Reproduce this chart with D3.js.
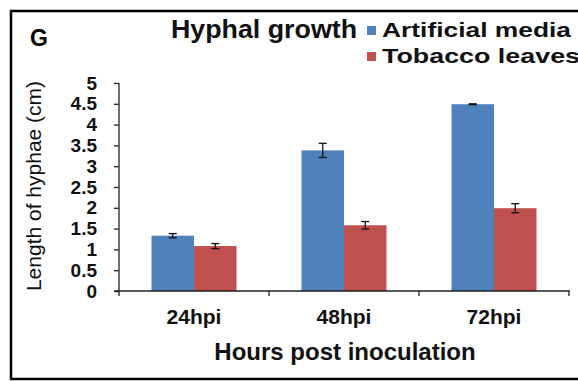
<!DOCTYPE html>
<html><head><meta charset="utf-8">
<script src="https://cdn.jsdelivr.net/npm/d3@7"></script>
<style>body{margin:0;background:#fff}svg{display:block;font-family:Arial,"Liberation Sans",sans-serif}</style>
</head><body><svg id="c" width="578" height="381"></svg>
<script>
const categories = ["24hpi", "48hpi", "72hpi"];
const seriesNames = ["Artificial media", "Tobacco leaves"];
const artificialMedia = [1.33, 3.38, 4.49];
const artificialErr = [0.05, 0.17, 0.01];
const tobaccoLeaves = [1.08, 1.58, 1.99];
const tobaccoErr = [0.06, 0.09, 0.11];
const yTicks = [0, 0.5, 1, 1.5, 2, 2.5, 3, 3.5, 4, 4.5, 5];
const colors = ["#4F81BD", "#C0504D"];

const svg = d3.select("#c");
svg.append("rect").attr("x", 11).attr("y", 11).attr("width", 600).attr("height", 368)
  .attr("fill", "none").attr("stroke", "#000").attr("stroke-width", 2.5);

const x = d3.scaleBand().domain(categories).range([119, 569]).paddingInner(0).paddingOuter(0);
const y = d3.scaleLinear().domain([0, 5]).range([291, 83]);
const x1 = d3.scaleBand().domain(seriesNames).range([0, 85]);

const vals = [artificialMedia, tobaccoLeaves];
const errs = [artificialErr, tobaccoErr];

const g = svg.append("g");
categories.forEach((c, i) => {
  const gx = x(c) + (x.bandwidth() - 85) / 2;
  seriesNames.forEach((s, k) => {
    const v = vals[k][i], e = errs[k][i];
    const bx = gx + x1(s);
    g.append("rect").attr("x", bx).attr("y", y(v)).attr("width", x1.bandwidth())
      .attr("height", y(0) - y(v)).attr("fill", colors[k]);
    const cx = bx + x1.bandwidth() / 2;
    g.append("line").attr("x1", cx).attr("x2", cx).attr("y1", y(v + e)).attr("y2", y(v - e))
      .attr("stroke", "#111").attr("stroke-width", 1.3);
    [v + e, v - e].forEach(t => g.append("line").attr("x1", cx - 4).attr("x2", cx + 4)
      .attr("y1", y(t)).attr("y2", y(t)).attr("stroke", "#111").attr("stroke-width", 1.3));
  });
});

const FONT = "Arial,'Liberation Sans',sans-serif";
const ya = svg.append("g").attr("transform", "translate(119,0)")
  .call(d3.axisLeft(y).tickValues(yTicks).tickSize(5).tickPadding(17).tickFormat(d3.format("")));
ya.select(".domain").attr("stroke", "#222").attr("stroke-width", 1.3).attr("d", "M0,83V291");
ya.selectAll(".tick line").attr("stroke", "#222").attr("stroke-width", 1.3);
ya.selectAll("text").attr("font-size", 19).attr("font-weight", "bold").attr("fill", "#111")
  .attr("font-family", FONT);

const xa = svg.append("g").attr("transform", "translate(0,291)")
  .call(d3.axisBottom(x).tickSize(0).tickPadding(18));
xa.select(".domain").attr("stroke", "#222").attr("stroke-width", 1.3).attr("d", "M114,0H570");
xa.selectAll("text").attr("font-size", 21).attr("font-weight", "bold").attr("fill", "#111")
  .attr("font-family", FONT);
const bounds = [119].concat(categories.map(c => x(c) + x.bandwidth()));
svg.append("g").selectAll("line").data(bounds).join("line")
  .attr("x1", d => d).attr("x2", d => d).attr("y1", 291).attr("y2", 296)
  .attr("stroke", "#222").attr("stroke-width", 1.3);

svg.append("text").attr("x", 30).attr("y", 46).text("G").attr("font-size", 23).attr("font-weight", "bold");
svg.append("text").attr("x", 171).attr("y", 38).text("Hyphal growth").attr("font-size", 25).attr("font-weight", "bold").attr("fill", "#111")
  .attr("textLength", 186).attr("lengthAdjust", "spacingAndGlyphs");
svg.append("text").attr("x", 345).attr("y", 360).attr("text-anchor", "middle")
  .text("Hours post inoculation").attr("font-size", 24).attr("font-weight", "bold").attr("fill", "#111");
svg.append("text").attr("transform", "translate(41,186) rotate(-90)").attr("text-anchor", "middle")
  .text("Length of hyphae (cm)").attr("font-size", 21).attr("fill", "#111");

const legendLen = [189, 198];
const lg = svg.append("g");
seriesNames.forEach((s, k) => {
  lg.append("rect").attr("x", 367).attr("y", 26 + k * 26).attr("width", 9).attr("height", 9).attr("fill", colors[k]);
  lg.append("text").attr("x", 382).attr("y", 37 + k * 26).text(s).attr("font-size", 21).attr("font-weight", "bold").attr("fill", "#111")
    .attr("textLength", legendLen[k]).attr("lengthAdjust", "spacingAndGlyphs");
});
</script></body></html>
